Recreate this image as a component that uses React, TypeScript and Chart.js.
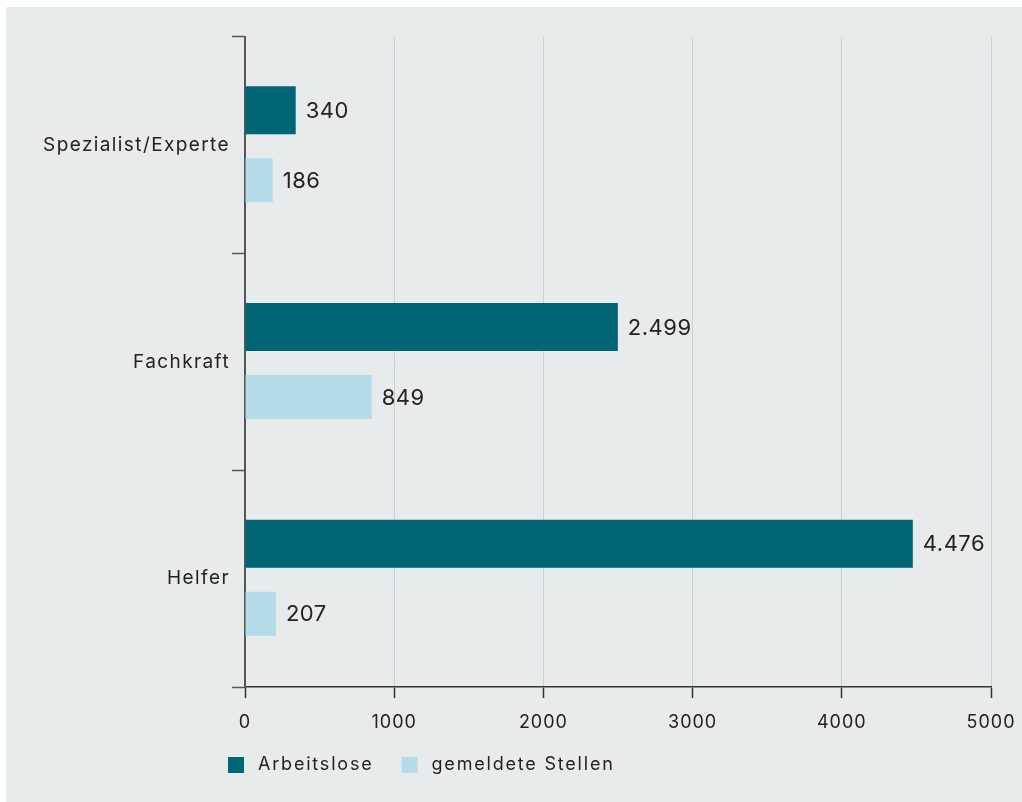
import React, { useEffect, useRef } from "react";
import { Chart, registerables } from "chart.js";

Chart.register(...registerables);

const categories = ["Spezialist/Experte", "Fachkraft", "Helfer"];
const seriesNames = ["Arbeitslose", "gemeldete Stellen"];
const arbeitslose = [340, 2499, 4476];
const gemeldeteStellen = [186, 849, 207];
const xMin = 0;
const xMax = 5000;
const xStep = 1000;

const DARK = "#006675";
const LIGHT = "#b3dce8";
const TEXT = "#222222";
const BG = "#e8ebec";
const FONT = "Inter, 'Open Sans', sans-serif";

const fmt = (v: number) => String(v).replace(/\B(?=(\d{3})+(?!\d))/g, ".");

const letterSpacingPlugin = {
  id: "letterSpacingPlugin",
  beforeDraw(chart: any) {
    const specs: [string, string][] = [["x", "1px"], ["y", "1.4px"]];
    specs.forEach(([id, sp]) => {
      const s = chart.scales[id];
      if (s && !s.__patched) {
        const orig = s.drawLabels.bind(s);
        s.drawLabels = (area: any) => {
          const ctx = s.ctx;
          const prev = ctx.letterSpacing;
          ctx.letterSpacing = sp;
          orig(area);
          ctx.letterSpacing = prev || "0px";
        };
        s.__patched = true;
      }
    });
  },
};

const valueLabels = {
  id: "valueLabels",
  afterDatasetsDraw(chart: any) {
    const ctx = chart.ctx;
    ctx.save();
    ctx.font = `400 22px ${FONT}`;
    ctx.letterSpacing = "0.5px";
    ctx.fillStyle = TEXT;
    ctx.textAlign = "left";
    ctx.textBaseline = "middle";
    chart.data.datasets.forEach((ds: any, i: number) => {
      const meta = chart.getDatasetMeta(i);
      meta.data.forEach((el: any, j: number) => {
        ctx.fillText(fmt(ds.data[j]), el.x + 10, el.y + 1);
      });
    });
    ctx.restore();
  },
};

const customLegend = {
  id: "customLegend",
  afterDraw(chart: any) {
    const ctx = chart.ctx;
    ctx.save();
    ctx.font = `400 18px ${FONT}`;
    ctx.letterSpacing = "1.8px";
    ctx.textAlign = "left";
    ctx.textBaseline = "middle";
    let x = 222;
    const yc = 758;
    chart.data.datasets.forEach((ds: any) => {
      ctx.fillStyle = ds.backgroundColor;
      ctx.fillRect(x, yc - 8, 16, 16);
      ctx.fillStyle = TEXT;
      ctx.fillText(ds.label, x + 30, yc);
      x += 30 + ctx.measureText(ds.label).width + 28;
    });
    ctx.restore();
  },
};

export default function App() {
  const ref = useRef<HTMLCanvasElement>(null);
  useEffect(() => {
    if (!ref.current) return;
    const chart = new Chart(ref.current, {
      type: "bar",
      data: {
        labels: categories,
        datasets: [
          { label: seriesNames[0], data: arbeitslose, backgroundColor: DARK, categoryPercentage: 0.646, barPercentage: 0.686 },
          { label: seriesNames[1], data: gemeldeteStellen, backgroundColor: LIGHT, categoryPercentage: 0.646, barPercentage: 0.629 },
        ],
      },
      options: {
        indexAxis: "y",
        responsive: false,
        animation: false,
        layout: { padding: { top: 30, right: 31, bottom: 65, left: 0 } },
        plugins: { legend: { display: false }, tooltip: { enabled: false } },
        scales: {
          x: {
            min: xMin,
            max: xMax,
            ticks: {
              stepSize: xStep,
              callback: (v: any) => String(v),
              color: TEXT,
              font: { family: FONT, size: 18 },
              padding: 14,
              maxRotation: 0,
            },
            grid: {
              color: "#c8d0d1",
              lineWidth: 1,
              tickColor: "#333333",
              tickLength: 11,
              tickWidth: 1.5,
            },
            border: { display: true, color: "#333333", width: 1.5 },
            afterFit: (s: any) => {
              s.height = 50;
              s.paddingLeft = 0;
              s.paddingRight = 0;
            },
          },
          y: {
            ticks: {
              color: TEXT,
              font: { family: FONT, size: 19 },
              padding: 2,
            },
            grid: {
              drawOnChartArea: false,
              drawTicks: true,
              tickLength: 13,
              tickColor: "#555555",
              tickWidth: 1.5,
              offset: true,
            },
            border: { display: true, color: "#555555", width: 2 },
            afterFit: (s: any) => {
              s.width = 239;
            },
          },
        },
      },
      plugins: [letterSpacingPlugin, valueLabels, customLegend],
    } as any);
    return () => chart.destroy();
  }, []);
  return (
    <div style={{ position: "absolute", left: 6, top: 7, width: 1016, height: 795, background: BG }}>
      <canvas ref={ref} width={1016} height={795} style={{ display: "block" }} />
    </div>
  );
}
